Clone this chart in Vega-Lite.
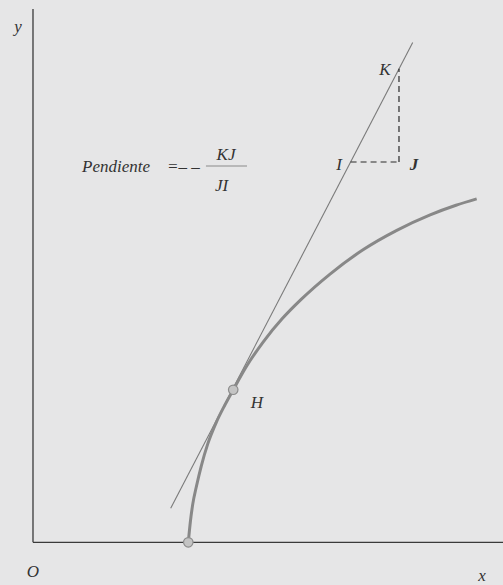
{
  "$schema": "https://vega.github.io/schema/vega-lite/v6.json",
  "width": 503,
  "height": 585,
  "padding": 0,
  "autosize": {"type": "none"},
  "background": "#e6e6e7",
  "config": {"view": {"stroke": null}},
  "datasets": {
    "axes": [
      {"x": 0, "y": 0, "x2": 0, "y2": 100},
      {"x": 0, "y": 0, "x2": 100, "y2": 0}
    ],
    "tangent": [
      {"x": 29.3, "y": 6.38},
      {"x": 80.79, "y": 93.74}
    ],
    "curve": [
      {"x": 33.04, "y": 0},
      {"x": 33.5, "y": 4.0},
      {"x": 34.0, "y": 7.2},
      {"x": 34.8, "y": 10.6},
      {"x": 35.8, "y": 14.3},
      {"x": 37.2, "y": 18.5},
      {"x": 39.0, "y": 22.5},
      {"x": 40.8, "y": 25.7},
      {"x": 42.6, "y": 28.6},
      {"x": 45.5, "y": 33.1},
      {"x": 49.0, "y": 37.6},
      {"x": 53.0, "y": 41.9},
      {"x": 57.0, "y": 45.5},
      {"x": 63.2, "y": 50.3},
      {"x": 70.3, "y": 54.9},
      {"x": 77.4, "y": 58.5},
      {"x": 84.5, "y": 61.4},
      {"x": 90.0, "y": 63.2},
      {"x": 94.4, "y": 64.4}
    ],
    "dashes": [
      {"x": 67.57, "y": 71.31, "x2": 77.87, "y2": 71.31},
      {"x": 77.87, "y": 71.31, "x2": 77.87, "y2": 88.78}
    ],
    "fraction": [
      {"x": 36.8, "y": 70.56, "x2": 45.53, "y2": 70.56}
    ],
    "points": [
      {"x": 42.6, "y": 28.6},
      {"x": 33.04, "y": 0}
    ],
    "labelsC": [
      {"x": -3.19, "y": 95.6, "t": "y"},
      {"x": 0, "y": -6.6, "t": "O"},
      {"x": 95.53, "y": -7.2, "t": "x"},
      {"x": 41.06, "y": 71.68, "t": "KJ"},
      {"x": 40.11, "y": 65.78, "t": "JI"},
      {"x": 74.89, "y": 87.62, "t": "K"},
      {"x": 65.11, "y": 69.81, "t": "I"},
      {"x": 47.66, "y": 25.18, "t": "H"}
    ],
    "labelsL": [
      {"x": 10.43, "y": 69.49, "t": "Pendiente"},
      {"x": 28.51, "y": 69.49, "t": "=– –"}
    ],
    "labelsB": [
      {"x": 81.06, "y": 69.81, "t": "J"}
    ]
  },
  "encoding": {
    "x": {"field": "x", "type": "quantitative", "scale": {"domain": [-7.02, 100], "nice": false, "zero": false}, "axis": null},
    "y": {"field": "y", "type": "quantitative", "scale": {"domain": [-8.01, 101.69], "nice": false, "zero": false}, "axis": null}
  },
  "layer": [
    {
      "data": {"name": "axes"},
      "mark": {"type": "rule", "color": "#3a3a3a", "strokeWidth": 1.3},
      "encoding": {"x2": {"field": "x2"}, "y2": {"field": "y2"}}
    },
    {
      "data": {"name": "tangent"},
      "mark": {"type": "line", "color": "#7a7a7a", "strokeWidth": 1.1},
      "encoding": {}
    },
    {
      "data": {"name": "curve"},
      "mark": {"type": "line", "color": "#888888", "strokeWidth": 3, "interpolate": "monotone"},
      "encoding": {}
    },
    {
      "data": {"name": "dashes"},
      "mark": {"type": "rule", "color": "#2a2a2a", "strokeWidth": 1.2, "strokeDash": [6, 4]},
      "encoding": {"x2": {"field": "x2"}, "y2": {"field": "y2"}}
    },
    {
      "data": {"name": "fraction"},
      "mark": {"type": "rule", "color": "#8a8a8a", "strokeWidth": 1},
      "encoding": {"x2": {"field": "x2"}, "y2": {"field": "y2"}}
    },
    {
      "data": {"name": "points"},
      "mark": {"type": "circle", "size": 90, "fill": "#c4c4c4", "fillOpacity": 1, "stroke": "#8c8c8c", "strokeWidth": 1.2}
    },
    {
      "data": {"name": "labelsC"},
      "mark": {"type": "text", "font": "Liberation Serif", "fontStyle": "italic", "fontSize": 17, "color": "#333333", "align": "center", "baseline": "alphabetic"},
      "encoding": {"text": {"field": "t"}}
    },
    {
      "data": {"name": "labelsL"},
      "mark": {"type": "text", "font": "Liberation Serif", "fontStyle": "italic", "fontSize": 17, "color": "#333333", "align": "left", "baseline": "alphabetic"},
      "encoding": {"text": {"field": "t"}}
    },
    {
      "data": {"name": "labelsB"},
      "mark": {"type": "text", "font": "Liberation Serif", "fontStyle": "italic", "fontWeight": "bold", "fontSize": 17, "color": "#333333", "align": "center", "baseline": "alphabetic"},
      "encoding": {"text": {"field": "t"}}
    }
  ]
}
